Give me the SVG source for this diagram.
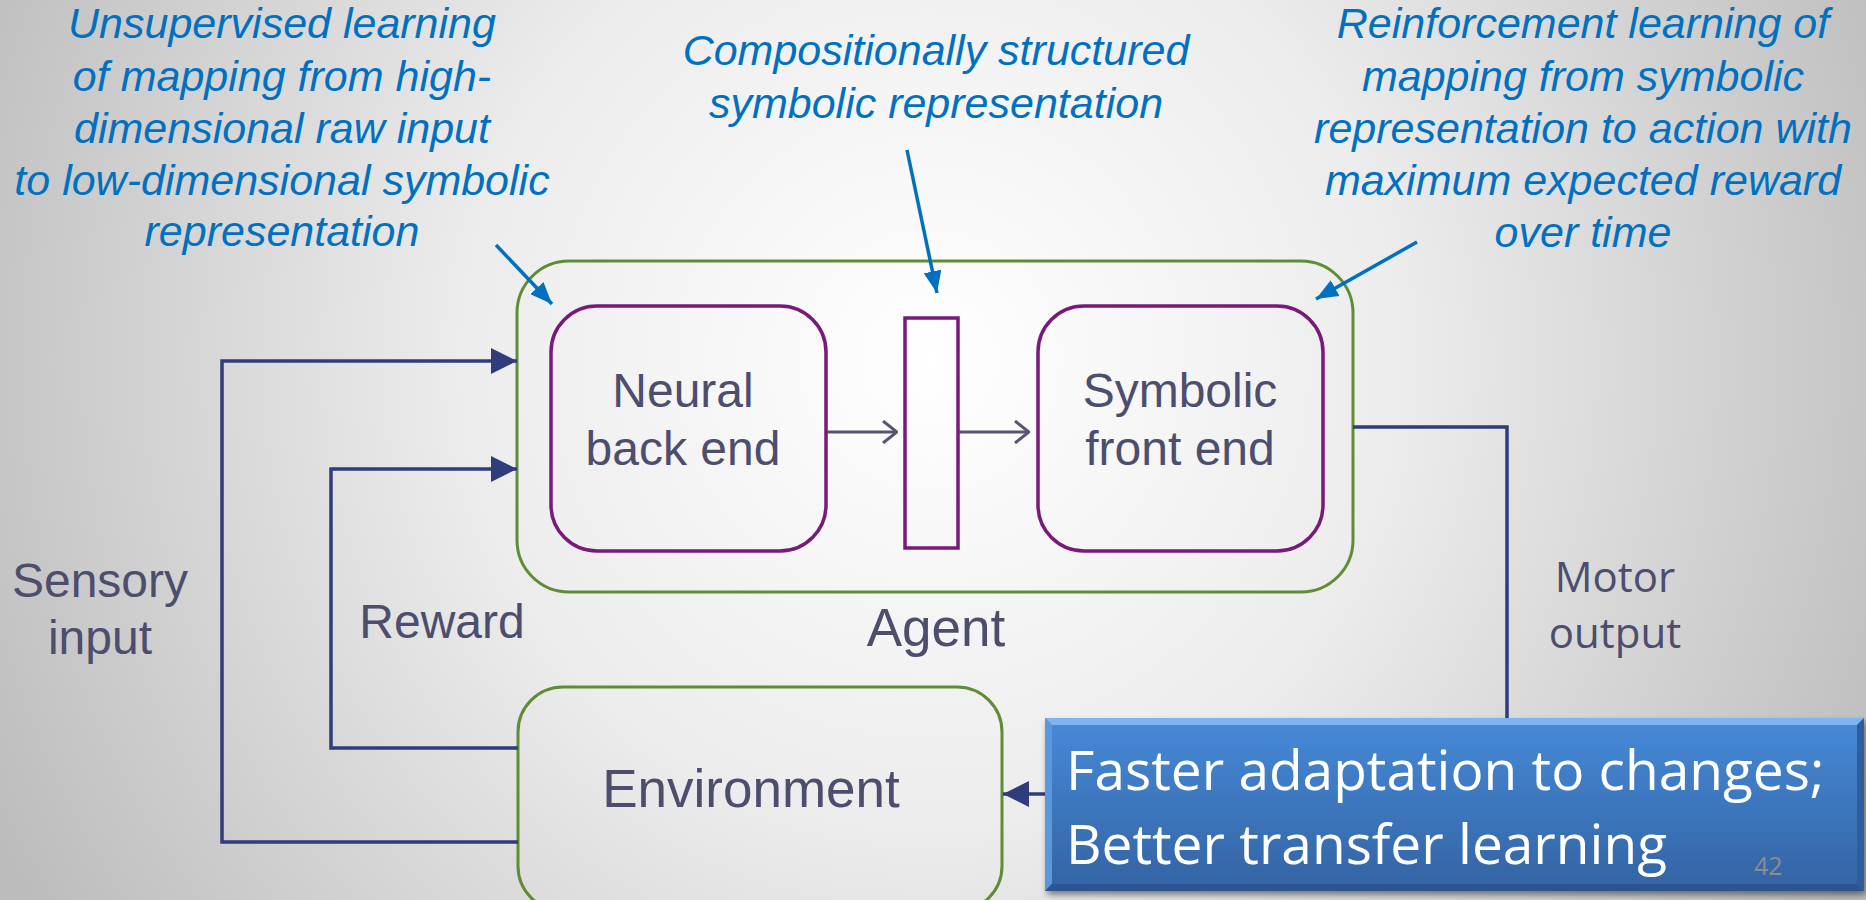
<svg xmlns="http://www.w3.org/2000/svg" width="1866" height="900" viewBox="0 0 1866 900">
  <defs>
    <radialGradient id="bg" gradientUnits="userSpaceOnUse" cx="930" cy="360" r="1050">
      <stop offset="0" stop-color="#ffffff"/>
      <stop offset="0.45" stop-color="#ececec"/>
      <stop offset="1" stop-color="#bcbcbc"/>
    </radialGradient>
    <linearGradient id="calloutFill" x1="0" y1="0" x2="0" y2="1">
      <stop offset="0" stop-color="#478ad8"/>
      <stop offset="1" stop-color="#3363a3"/>
    </linearGradient>
    <filter id="shadow" x="-5%" y="-10%" width="115%" height="130%">
      <feGaussianBlur in="SourceAlpha" stdDeviation="3"/>
      <feOffset dx="2" dy="4" result="b"/>
      <feComponentTransfer><feFuncA type="linear" slope="0.45"/></feComponentTransfer>
      <feMerge><feMergeNode/><feMergeNode in="SourceGraphic"/></feMerge>
    </filter>
    <marker id="navyHead" viewBox="0 0 26 26" refX="26" refY="13" markerWidth="26" markerHeight="26" markerUnits="userSpaceOnUse" orient="auto">
      <path d="M0,0 L26,13 L0,26 z" fill="#2f3d7c"/>
    </marker>
    <marker id="blueHead" viewBox="0 0 22 18" refX="22" refY="9" markerWidth="22" markerHeight="18" markerUnits="userSpaceOnUse" orient="auto">
      <path d="M0,0 L22,9 L0,18 z" fill="#0070c0"/>
    </marker>
    <marker id="chevron" viewBox="0 0 16 24" refX="15" refY="12" markerWidth="16" markerHeight="24" markerUnits="userSpaceOnUse" orient="auto">
      <path d="M1,1 L15,12 L1,23" fill="none" stroke="#555572" stroke-width="3"/>
    </marker>
    <style>
      .note { font-family: "Liberation Sans", Arial, sans-serif; font-style: italic; font-size: 43px; fill: #0070c0; text-anchor: middle; }
      .noteArrow { fill: none; stroke: #0070c0; stroke-width: 3.5; marker-end: url(#blueHead); }
      .label { font-family: "Liberation Sans", Arial, sans-serif; font-size: 48px; fill: #4d4d6d; text-anchor: middle; }
      .big { font-size: 53px; }
      .outer { fill: none; stroke: #5f8d34; stroke-width: 3; }
      .inner { fill: none; stroke: #781a7a; stroke-width: 3.5; }
      .wire { fill: none; stroke: #2f3d7c; stroke-width: 3.5; }
      .flow { fill: none; stroke: #555572; stroke-width: 3; marker-end: url(#chevron); }
      .callout { font-family: "Open Sans", "Noto Sans", sans-serif; font-size: 55px; fill: #ffffff; }
    </style>
  </defs>

  <rect x="0" y="0" width="1866" height="900" fill="url(#bg)"/>

  <!-- explanatory notes -->
  <g id="note-unsupervised">
    <text class="note" x="282" y="38">Unsupervised learning</text>
    <text class="note" x="282" y="91">of mapping from high-</text>
    <text class="note" x="282" y="143">dimensional raw input</text>
    <text class="note" x="282" y="195">to low-dimensional symbolic</text>
    <text class="note" x="282" y="246">representation</text>
  </g>
  <g id="note-compositional">
    <text class="note" x="936" y="65">Compositionally structured</text>
    <text class="note" x="936" y="118">symbolic representation</text>
  </g>
  <g id="note-reinforcement">
    <text class="note" x="1583" y="38">Reinforcement learning of</text>
    <text class="note" x="1583" y="91">mapping from symbolic</text>
    <text class="note" x="1583" y="143">representation to action with</text>
    <text class="note" x="1583" y="195">maximum expected reward</text>
    <text class="note" x="1583" y="247">over time</text>
  </g>

  <!-- agent container -->
  <g id="agent">
    <rect class="outer" x="517" y="261" width="836" height="331" rx="52" ry="52"/>
    <text class="label big" x="936" y="646">Agent</text>
  </g>

  <g id="neural-back-end">
    <rect class="inner" x="551" y="306" width="275" height="245" rx="46" ry="46"/>
    <text class="label" x="683" y="407">Neural</text>
    <text class="label" x="683" y="465">back end</text>
  </g>

  <g id="symbolic-representation">
    <rect class="inner" x="905" y="318" width="53" height="230"/>
  </g>

  <g id="symbolic-front-end">
    <rect class="inner" x="1038" y="306" width="285" height="245" rx="46" ry="46"/>
    <text class="label" x="1180" y="407">Symbolic</text>
    <text class="label" x="1180" y="465">front end</text>
  </g>

  <g id="environment">
    <rect class="outer" x="518" y="687" width="484" height="224" rx="45" ry="45"/>
    <text class="label big" x="751" y="807">Environment</text>
  </g>

  <!-- connectors -->
  <g id="connectors">
    <path class="wire" d="M518,842 H222 V361 H517" marker-end="url(#navyHead)"/>
    <path class="wire" d="M518,748 H331 V469 H517" marker-end="url(#navyHead)"/>
    <path class="wire" d="M1353,427 H1507 V720"/>
    <path class="wire" d="M1046,794 H1003" marker-end="url(#navyHead)"/>
    <path class="flow" d="M827,432 H897"/>
    <path class="flow" d="M959,432 H1029"/>
    <path class="noteArrow" d="M496,245 L552,304"/>
    <path class="noteArrow" d="M907,150 L937,293"/>
    <path class="noteArrow" d="M1417,242 L1316,299"/>
  </g>

  <!-- connector labels -->
  <g id="labels">
    <text class="label" x="100" y="597">Sensory</text>
    <text class="label" x="100" y="654">input</text>
    <text class="label" x="442" y="638">Reward</text>
    <text class="label" style="font-family:'Open Sans','Noto Sans',sans-serif;font-size:42px" x="1615" y="592">Motor</text>
    <text class="label" style="font-family:'Open Sans','Noto Sans',sans-serif;font-size:42px" x="1615" y="648">output</text>
  </g>

  <!-- highlighted takeaway -->
  <g id="takeaway">
    <g filter="url(#shadow)">
      <rect x="1045" y="718" width="819" height="173" fill="url(#calloutFill)"/>
    </g>
    <polygon points="1045,718 1864,718 1857,725 1052,725" fill="#7fb4ee"/>
    <polygon points="1045,718 1052,725 1052,884 1045,891" fill="#5b97dd"/>
    <polygon points="1864,718 1864,891 1857,884 1857,725" fill="#2f5e9c"/>
    <polygon points="1045,891 1864,891 1857,884 1052,884" fill="#2a5590"/>
    <text class="callout" x="1066" y="790">Faster adaptation to changes;</text>
    <text class="callout" x="1066" y="864">Better transfer learning</text>
    <text x="1754" y="875" style="font-family:'Open Sans','Noto Sans',sans-serif;font-size:25px;fill:#8c8c8c">42</text>
  </g>
</svg>
